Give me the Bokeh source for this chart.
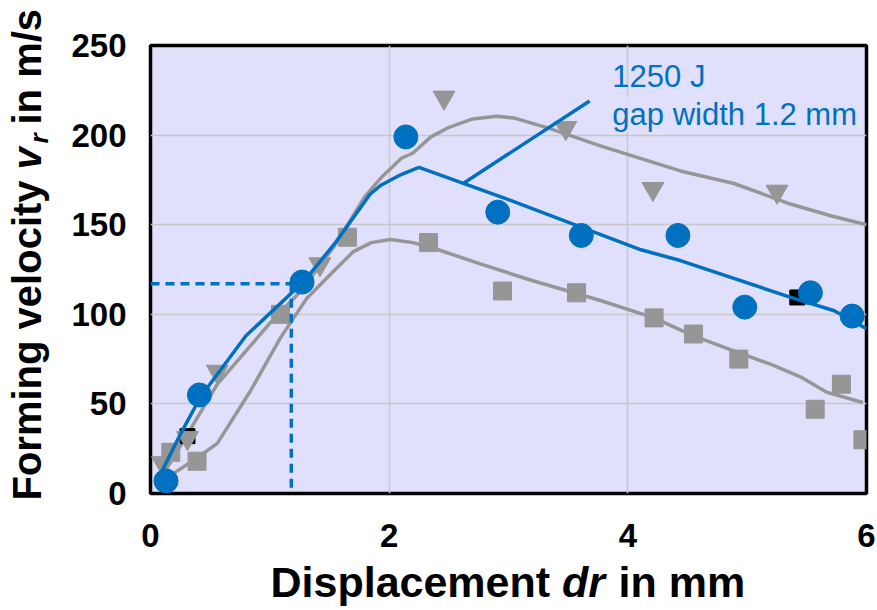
import math
from bokeh.plotting import figure
from bokeh.models import Range1d, FixedTicker, Label
from bokeh.layouts import column, row
from bokeh.embed import file_html
from bokeh.resources import INLINE

# ---------------- data ----------------
# blue measured points (1250 J, gap width 1.2 mm)
blue_dr = [0.13, 0.41, 1.27, 2.14, 2.91, 3.61, 4.42, 4.98, 5.53, 5.88]
blue_v = [7, 55, 118, 199, 157, 144, 144, 104, 112, 99]

# blue fitted curve
blue_fit_dr = [0.07, 0.25, 0.42, 0.8, 1.28, 1.55, 1.84, 1.93, 2.1, 2.25, 3.0, 4.11, 4.44, 5.34, 5.73, 6.0]
blue_fit_v = [9, 33, 54, 88, 118, 140, 167, 172, 178, 182, 164, 136, 130, 110, 102, 92]

# grey triangles and their curve
tri_dr = [0.1, 0.31, 0.56, 1.42, 2.46, 3.48, 4.21, 5.25]
tri_v = [17, 31, 68, 128, 221, 204, 170, 168.5]
tri_fit_dr = [0.1, 0.3, 0.56, 1.0, 1.26, 1.54, 1.8, 1.93, 2.1, 2.2, 2.35, 2.49, 2.7, 2.9, 3.05, 3.33, 3.77, 4.44, 4.89, 5.34, 5.7, 6.0]
tri_fit_v = [10, 32, 61, 95, 113, 138, 166, 176, 187, 190, 199, 204, 209, 210.5, 209.5, 204, 194, 180, 173, 162, 155, 150]

# grey squares and their curve
sq_dr = [0.17, 0.39, 1.09, 1.65, 2.33, 2.95, 3.57, 4.22, 4.55, 4.93, 5.57, 5.79, 5.97]
sq_v = [23, 18, 100, 143, 140, 113, 112, 98, 89, 75, 47, 61, 30]
sq_fit_dr = [0.14, 0.35, 0.56, 0.84, 1.09, 1.31, 1.54, 1.7, 1.85, 2.01, 2.2, 2.43, 2.77, 3.19, 3.57, 3.77, 4.22, 4.55, 4.95, 5.2, 5.45, 5.67, 5.97]
sq_fit_v = [9, 18, 28, 57.5, 87, 109, 124.5, 135, 140, 141.7, 140, 135.6, 128, 119, 111.6, 107.7, 98, 88, 78, 72, 65, 56.4, 50.8]

# black squares (partly hidden)
blk_dr = [0.31, 5.42]
blk_v = [32, 109.4]

# reading at the gap width
ref_dr = 1.18
ref_v = 117

# annotation leader line
lead_dr = [2.62, 3.68]
lead_v = [173, 219]

x_ticks = [0, 2, 4, 6]
y_ticks = [0, 50, 100, 150, 200, 250]
note_lines = ["1250 J", "gap width 1.2 mm"]
x_title = ["Displacement", "dr", "in mm"]
y_title = ["Forming velocity", "v", "r", "in m/s"]

# ---------------- styling ----------------
BLUE = "#0070C0"
GREY = "#969696"
BG = "#E0E0FC"
FONT = "Liberation Sans"


def blank(w, h, xr, yr, fill="white"):
    f = figure(width=w, height=h, x_range=xr, y_range=yr, output_backend="svg",
               toolbar_location=None, x_axis_type=None, y_axis_type=None,
               min_border=0, min_border_left=0, min_border_right=0,
               min_border_top=0, min_border_bottom=0,
               background_fill_color=fill, border_fill_color=fill)
    f.outline_line_color = None
    f.grid.visible = False
    f.frame_align = False
    return f


# thin blue rule at the top of the slide
top_bar = blank(877, 3, Range1d(0, 1), Range1d(0, 1), fill=BLUE)

p = figure(width=817, height=554, x_range=Range1d(0, 6), y_range=Range1d(0, 250),
           output_backend="svg", toolbar_location=None,
           min_border_left=90, min_border_right=11, min_border_top=42, min_border_bottom=64,
           background_fill_color=BG, border_fill_color="white")
p.frame_align = False

p.outline_line_color = "black"
p.outline_line_width = 3.5
for ax in (p.xaxis[0], p.yaxis[0]):
    ax.axis_line_color = None
    ax.major_tick_line_color = None
    ax.minor_tick_line_color = None
    ax.major_label_text_font = FONT
    ax.major_label_text_font_style = "bold"
    ax.major_label_text_font_size = "33px"
    ax.major_label_text_color = "black"
p.xaxis.ticker = FixedTicker(ticks=x_ticks)
p.yaxis.ticker = FixedTicker(ticks=y_ticks)
p.xaxis.major_label_standoff = 24
p.yaxis.major_label_standoff = 18

p.xgrid.grid_line_color = "#C8C8C8"
p.ygrid.grid_line_color = "#C8C8C8"
p.xgrid.grid_line_width = 1.5
p.ygrid.grid_line_width = 1.5

# curves
p.line(tri_fit_dr, tri_fit_v, line_color=GREY, line_width=3.5)
p.line(sq_fit_dr, sq_fit_v, line_color=GREY, line_width=3.5)
p.scatter(blk_dr, blk_v, marker="square", size=15, fill_color="black", line_color="black")
p.scatter(sq_dr, sq_v, marker="square", size=18, fill_color=GREY, line_color=GREY)
p.scatter(tri_dr, tri_v, marker="inverted_triangle", size=22, fill_color=GREY, line_color=GREY)
p.line(blue_fit_dr, blue_fit_v, line_color=BLUE, line_width=3.5)
p.line(lead_dr, lead_v, line_color=BLUE, line_width=3.5)

# dashed reading lines
p.line([0, ref_dr], [ref_v, ref_v], line_color=BLUE, line_width=3.5, line_dash="9 6")
p.line([ref_dr, ref_dr], [ref_v, 0], line_color=BLUE, line_width=3.5, line_dash="9 6")

p.scatter(blue_dr, blue_v, marker="circle", size=24, fill_color=BLUE, line_color=BLUE)

# annotation text
p.add_layout(Label(x=3.87, y=232.5, text=note_lines[0], text_font=FONT, text_font_size="31px",
                   text_color=BLUE, text_baseline="alphabetic", text_align="left"))
p.add_layout(Label(x=3.87, y=211.5, text=note_lines[1], text_font=FONT, text_font_size="31px",
                   text_color=BLUE, text_baseline="alphabetic", text_align="left",
                   background_fill_color=BG))

# ---- axis titles, built from pieces for the italic / subscript parts ----
# helper panels whose ranges are page pixels
left = blank(60, 607, Range1d(0, 60), Range1d(610, 3))
bottom = blank(817, 53, Range1d(60, 877), Range1d(610, 557))


def piece(fig, x, y, text, size, style, angle=0.0):
    fig.add_layout(Label(x=x, y=y, text=text, text_font=FONT, text_font_size=size,
                         text_font_style=style, text_color="black", text_align="left",
                         text_baseline="alphabetic", angle=angle))


piece(bottom, 270, 581, x_title[0], "43px", "bold")
piece(bottom, 561.6, 581, x_title[1], "43px", "bold italic")
piece(bottom, 618, 581, x_title[2], "43px", "bold")

A = math.pi / 2
piece(left, 26, 500, y_title[0], "40px", "bold", A)
piece(left, 26, 169, y_title[1], "40px", "bold italic", A)
piece(left, 38.5, 143, y_title[2], "26px", "bold italic", A)
piece(left, 26, 124, y_title[3], "40px", "bold", A)

layout = column(top_bar, row(left, column(p, bottom)))

open("out.html", "w").write(file_html(layout, INLINE))
